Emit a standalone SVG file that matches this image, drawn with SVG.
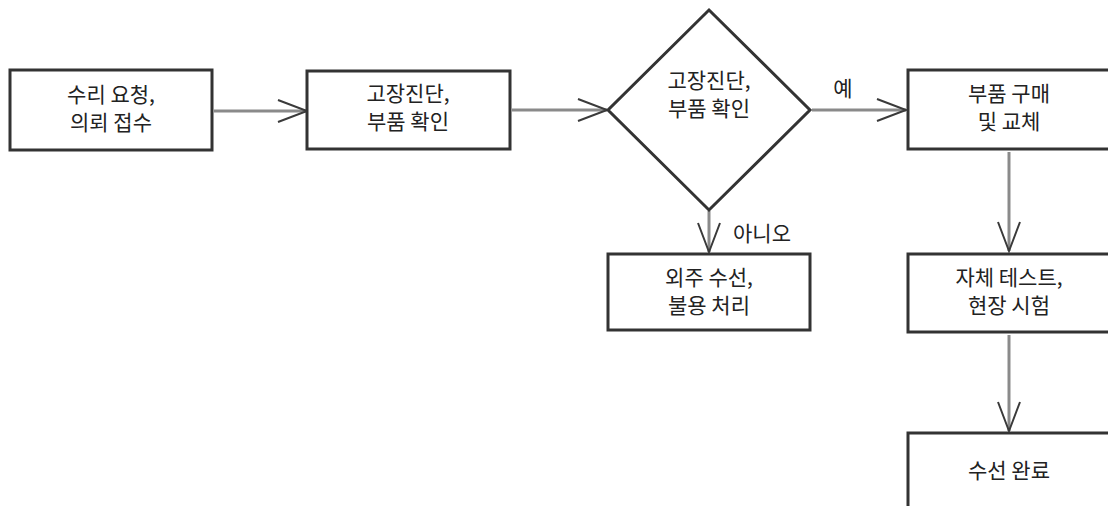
<svg xmlns="http://www.w3.org/2000/svg" width="1108" height="506" viewBox="0 0 1108 506">
<defs>
<style>
.box{fill:#fff;stroke:#333;stroke-width:3}
.t{font-family:"Noto Sans CJK KR","Noto Sans",sans-serif;font-size:21px;fill:#222;text-anchor:middle}
.ln{stroke:#8a8a8a;stroke-width:3;fill:none}
.ah{stroke:#3a3a3a;stroke-width:2;fill:none}
</style>
<marker id="arr" markerUnits="userSpaceOnUse" markerWidth="40" markerHeight="30" viewBox="-32 -15 40 30" refX="0" refY="0" orient="auto">
<path class="ah" d="M-29,-11 L0,0 L-29,11"/>
</marker>
</defs>
<rect width="1108" height="506" fill="#fff"/>
<g id="connectors">
<line class="ln" x1="214" y1="111" x2="307" y2="111" marker-end="url(#arr)"/>
<line class="ln" x1="512" y1="110" x2="607" y2="110" marker-end="url(#arr)"/>
<line class="ln" x1="812" y1="110" x2="906" y2="110" marker-end="url(#arr)"/>
<line class="ln" x1="709" y1="211" x2="709" y2="252" marker-end="url(#arr)"/>
<line class="ln" x1="1009" y1="152" x2="1009" y2="251" marker-end="url(#arr)"/>
<line class="ln" x1="1009" y1="335" x2="1009" y2="431" marker-end="url(#arr)"/>
<text class="t" x="843" y="96">예</text>
<text class="t" x="762" y="241">아니오</text>
</g>
<g id="n1">
<rect class="box" x="10" y="70" width="202" height="80"/>
<text class="t" x="111" y="102">수리 요청,</text>
<text class="t" x="111" y="130">의뢰 접수</text>
</g>
<g id="n2">
<rect class="box" x="307" y="71" width="203" height="78"/>
<text class="t" x="408" y="101">고장진단,</text>
<text class="t" x="408" y="129">부품 확인</text>
</g>
<g id="n3">
<polygon class="box" points="709,10 810,110 709,210 608,110"/>
<text class="t" x="709" y="88">고장진단,</text>
<text class="t" x="709" y="116">부품 확인</text>
</g>
<g id="n4">
<rect class="box" x="908" y="70" width="202" height="79"/>
<text class="t" x="1009" y="101">부품 구매</text>
<text class="t" x="1009" y="129">및 교체</text>
</g>
<g id="n5">
<rect class="box" x="608" y="254" width="202" height="76"/>
<text class="t" x="709" y="285">외주 수선,</text>
<text class="t" x="709" y="313">불용 처리</text>
</g>
<g id="n6">
<rect class="box" x="908" y="254" width="202" height="78"/>
<text class="t" x="1009" y="285">자체 테스트,</text>
<text class="t" x="1009" y="313">현장 시험</text>
</g>
<g id="n7">
<rect class="box" x="908" y="433" width="202" height="80"/>
<text class="t" x="1009" y="478">수선 완료</text>
</g>
</svg>
